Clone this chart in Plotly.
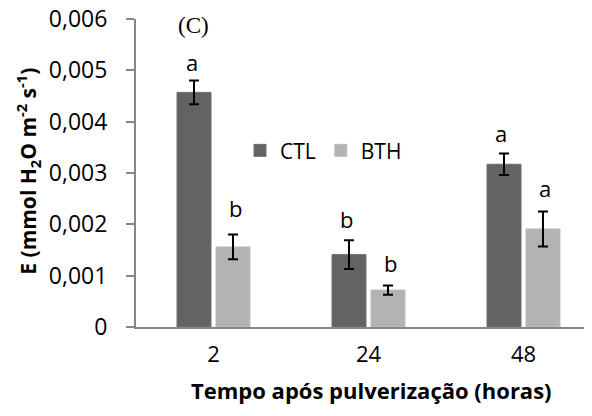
import plotly.graph_objects as go

categories = ["2", "24", "48"]
ctl_values = [0.00457, 0.00141, 0.00317]
ctl_errors = [0.00023, 0.00028, 0.00021]
bth_values = [0.00156, 0.00072, 0.00191]
bth_errors = [0.00024, 0.00009, 0.00034]
ctl_letters = ["a", "b", "a"]
bth_letters = ["b", "b", "a"]
ctl_letter_y = [0.00517, 0.00211, 0.00378]
bth_letter_y = [0.00232, 0.00125, 0.00271]
y_tickvals = [0, 0.001, 0.002, 0.003, 0.004, 0.005, 0.006]
y_ticktext = ["0", "0,001", "0,002", "0,003", "0,004", "0,005", "0,006"]

FONT = "Open Sans"
AXIS_GREY = "#868686"

# page body adds an 8px offset, so the figure is 8px smaller and margins shifted
PLOT_L, PLOT_B, PLOT_W, PLOT_H = 136, 327.3, 456, 308  # in page pixels


def px(xp):
    return (xp - PLOT_L) / PLOT_W


def py(yp):
    return (PLOT_B - yp) / PLOT_H


fig = go.Figure()
fig.add_trace(go.Bar(
    name="CTL", x=categories, y=ctl_values,
    marker=dict(color="#636363", line=dict(color="#6e6e6e", width=1)),
    error_y=dict(type="data", array=ctl_errors, color="black", thickness=2, width=5),
))
fig.add_trace(go.Bar(
    name="BTH", x=categories, y=bth_values,
    marker=dict(color="#b3b3b3", line=dict(color="#bcbcbc", width=1)),
    error_y=dict(type="data", array=bth_errors, color="black", thickness=2, width=5),
))

annotations = []
for i, (txt, yv) in enumerate(zip(ctl_letters, ctl_letter_y)):
    annotations.append(dict(x=i, y=yv, xref="x", yref="y", text=txt, showarrow=False,
                            xanchor="center", yanchor="middle",
                            xshift=-22, font=dict(family=FONT, size=22, color="black")))
for i, (txt, yv) in enumerate(zip(bth_letters, bth_letter_y)):
    annotations.append(dict(x=i, y=yv, xref="x", yref="y", text=txt, showarrow=False,
                            xanchor="center", yanchor="middle",
                            xshift=22, font=dict(family=FONT, size=22, color="black")))

# panel label
annotations.append(dict(x=px(193), y=py(26), xref="paper", yref="paper",
                        text="(C)", showarrow=False, xanchor="center", yanchor="middle",
                        font=dict(family="Liberation Serif", size=23, color="black")))
# x axis title
annotations.append(dict(x=px(371), y=py(390), xref="paper", yref="paper",
                        text="<b>Tempo após pulverização (horas)</b>", showarrow=False,
                        xanchor="center", yanchor="middle",
                        font=dict(family=FONT, size=22, color="black")))
# y axis title
annotations.append(dict(x=px(28), y=py(172), xref="paper", yref="paper",
                        text="<b>E (mmol H<sub>2</sub>O m<sup>-2</sup> s<sup>-1</sup>)</b>",
                        textangle=-90, showarrow=False, xanchor="center", yanchor="middle",
                        font=dict(family=FONT, size=21, color="black")))

fig.update_layout(
    width=584, height=408,
    margin=dict(l=128, r=0, t=11, b=89, pad=0, autoexpand=False),
    paper_bgcolor="white", plot_bgcolor="white",
    barmode="group", bargap=0.497, bargroupgap=0.128,
    showlegend=True,
    legend=dict(orientation="h", x=px(240), y=py(151),
                xanchor="left", yanchor="middle",
                font=dict(family=FONT, size=21, color="black"),
                bgcolor="rgba(0,0,0,0)", itemwidth=30, tracegroupgap=0),
    annotations=annotations,
    font=dict(family=FONT, color="black"),
)
fig.update_xaxes(
    type="category", range=[-0.5, 2.442], automargin=False,
    showline=True, linecolor=AXIS_GREY, linewidth=2,
    ticks="", showgrid=False, zeroline=False,
    tickfont=dict(family=FONT, size=22, color="black"),
    ticklabelstandoff=7,
)
fig.update_yaxes(
    range=[0, 0.006], tickvals=y_tickvals, ticktext=y_ticktext, automargin=False,
    showline=True, linecolor=AXIS_GREY, linewidth=2,
    ticks="outside", ticklen=8, tickcolor=AXIS_GREY, tickwidth=2,
    showgrid=False, zeroline=False, ticklabeloverflow="allow",
    tickfont=dict(family=FONT, size=23, color="black"),
    ticklabelstandoff=14,
)

fig.write_html("out.html")
